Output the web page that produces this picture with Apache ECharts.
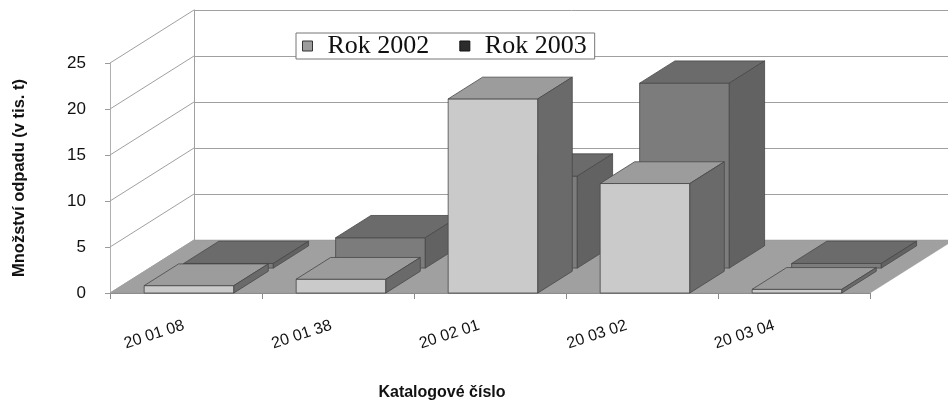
<!DOCTYPE html>
<html>
<head>
<meta charset="utf-8">
<title>Množství odpadu</title>
<script src="https://cdn.jsdelivr.net/npm/echarts@6/dist/echarts.min.js"></script>
<style>
  html, body { margin: 0; padding: 0; background: #fff; }
  #chart { width: 948px; height: 403px; }
</style>
</head>
<body>
<div id="chart"></div>
<script>
// Waste amounts (thousand tonnes) by catalogue number
const categories = ['20 01 08', '20 01 38', '20 02 01', '20 03 02', '20 03 04'];
const rok2002 = [0.8, 1.5, 21.1, 11.9, 0.4];
const rok2003 = [0.5, 3.3, 10.0, 20.1, 0.5];
const yTicks = [0, 5, 10, 15, 20, 25];

// Oblique projection of the floor depth (pixels for the full depth)
const DEPTH_DX = 84;
const DEPTH_DY = -53;
// Depth band occupied by each row of boxes (0 = front edge, 1 = back wall)
const ROW_2002 = [0.0, 0.41];
const ROW_2003 = [0.47, 0.89];
const BAR_FRAC = 0.59;
const BAR_SHIFT = 3;

const SANS = "'Liberation Sans', Arial, sans-serif";
const EDGE = '#474747';

function boxRenderer(row, colors) {
  return function (params, api) {
    const cat = api.value(0);
    const base = api.coord([cat, 0]);
    const top = api.coord([cat, api.value(1)]);
    const w = api.size([1, 0])[0] * BAR_FRAC;
    const xl = base[0] - w / 2 + BAR_SHIFT;
    const xr = xl + w;
    const ox0 = DEPTH_DX * row[0], oy0 = DEPTH_DY * row[0];
    const ox1 = DEPTH_DX * row[1], oy1 = DEPTH_DY * row[1];
    const yb = base[1], yt = top[1];
    const st = { stroke: EDGE, lineWidth: 0.8, lineJoin: 'round' };
    return {
      type: 'group',
      children: [
        {
          type: 'polygon',
          shape: { points: [[xl + ox0, yt + oy0], [xr + ox0, yt + oy0], [xr + ox0, yb + oy0], [xl + ox0, yb + oy0]] },
          style: Object.assign({ fill: colors.front }, st)
        },
        {
          type: 'polygon',
          shape: { points: [[xl + ox0, yt + oy0], [xr + ox0, yt + oy0], [xr + ox1, yt + oy1], [xl + ox1, yt + oy1]] },
          style: Object.assign({ fill: colors.top }, st)
        },
        {
          type: 'polygon',
          shape: { points: [[xr + ox0, yt + oy0], [xr + ox1, yt + oy1], [xr + ox1, yb + oy1], [xr + ox0, yb + oy0]] },
          style: Object.assign({ fill: colors.side }, st)
        }
      ]
    };
  };
}

const chart = echarts.init(document.getElementById('chart'), null, { renderer: 'canvas' });

const option = {
  animation: false,
  backgroundColor: '#ffffff',
  legend: {
    left: 296,
    top: 33,
    padding: [0, 8, 0, 6],
    itemWidth: 10,
    itemHeight: 10,
    itemGap: 30,
    icon: 'rect',
    borderColor: '#777',
    borderWidth: 1,
    backgroundColor: '#ffffff',
    z: 10,
    textStyle: {
      fontFamily: "'Liberation Serif', 'Times New Roman', serif",
      fontSize: 26,
      color: '#111',
      padding: [2, 0, 0, 10]
    },
    data: [
      { name: 'Rok 2002', itemStyle: { color: '#9c9c9c', borderColor: '#333', borderWidth: 1 } },
      { name: 'Rok 2003', itemStyle: { color: '#2c2c2c', borderColor: '#111', borderWidth: 1 } }
    ]
  },
  grid: [
    // front plane: boxes and the labelled axes
    { left: 110, right: 78, top: 63, bottom: 110, outerBoundsMode: 'none', containLabel: false },
    // back wall, pushed back by the full depth
    { left: 110 + DEPTH_DX, right: 78 - DEPTH_DX - 20, top: 63 + DEPTH_DY, bottom: 110 - DEPTH_DY, outerBoundsMode: 'none', containLabel: false },
    // band used only for the slanted category labels (foreshortened spacing)
    { left: 110, right: 100, top: 63, bottom: 110, outerBoundsMode: 'none', containLabel: false }
  ],
  xAxis: [
    {
      gridIndex: 0,
      type: 'category',
      data: categories,
      boundaryGap: true,
      axisLine: { show: true, lineStyle: { color: '#8a8a8a', width: 1 } },
      axisTick: { show: true, length: 6, lineStyle: { color: '#8a8a8a' } },
      axisLabel: { show: false },
      name: 'Katalogové číslo',
      nameLocation: 'middle',
      nameGap: 92,
      nameTextStyle: {
        fontFamily: SANS,
        fontWeight: 'bold',
        fontSize: 16,
        color: '#111',
        padding: [0, 96, 0, 0]
      },
      splitLine: { show: false }
    },
    {
      gridIndex: 1,
      type: 'value',
      show: false,
      min: 0,
      max: 1
    },
    {
      gridIndex: 2,
      type: 'category',
      data: categories,
      boundaryGap: true,
      axisLine: { show: false },
      axisTick: { show: false },
      splitLine: { show: false },
      axisLabel: {
        rotate: 18,
        margin: 32,
        interval: 0,
        color: '#111',
        fontFamily: SANS,
        fontSize: 16
      }
    }
  ],
  yAxis: [
    {
      gridIndex: 0,
      type: 'value',
      min: 0,
      max: 25,
      interval: 5,
      axisLine: { show: true, lineStyle: { color: '#b0b0b0', width: 1 } },
      axisTick: { show: true, length: 5, lineStyle: { color: '#9a9a9a' } },
      axisLabel: {
        margin: 24,
        color: '#111',
        fontFamily: SANS,
        fontSize: 17
      },
      splitLine: { show: false },
      name: 'Množství odpadu (v tis. t)',
      nameLocation: 'middle',
      nameGap: 82,
      nameTextStyle: {
        fontFamily: SANS,
        fontWeight: 'bold',
        fontSize: 16.5,
        color: '#111'
      }
    },
    {
      gridIndex: 1,
      type: 'value',
      min: 0,
      max: 25,
      interval: 5,
      axisLine: { show: true, lineStyle: { color: '#a0a0a0', width: 1 } },
      axisTick: { show: false },
      axisLabel: { show: false },
      splitLine: { show: true, lineStyle: { color: '#a0a0a0', width: 1 } }
    },
    {
      gridIndex: 2,
      type: 'value',
      show: false,
      min: 0,
      max: 25
    }
  ],
  series: [
    {
      // floor of the plot
      type: 'custom',
      xAxisIndex: 0,
      yAxisIndex: 0,
      silent: true,
      z: 1,
      data: [[0]],
      renderItem: function (params, api) {
        const cs = params.coordSys;
        const x0 = cs.x, x1 = cs.x + cs.width, yb = cs.y + cs.height;
        return {
          type: 'polygon',
          shape: { points: [[x0, yb], [x1, yb], [x1 + DEPTH_DX, yb + DEPTH_DY], [x0 + DEPTH_DX, yb + DEPTH_DY]] },
          style: { fill: '#a0a0a0', stroke: '#959595', lineWidth: 0.5 }
        };
      }
    },
    {
      // side wall grid lines running from the value axis to the back wall
      type: 'custom',
      xAxisIndex: 0,
      yAxisIndex: 0,
      silent: true,
      z: 1,
      data: yTicks.map(function (v) { return [0, v]; }),
      renderItem: function (params, api) {
        const cs = params.coordSys;
        const y = api.coord([0, api.value(1)])[1];
        return {
          type: 'line',
          shape: { x1: cs.x, y1: y, x2: cs.x + DEPTH_DX, y2: y + DEPTH_DY },
          style: { stroke: '#a0a0a0', lineWidth: 1 }
        };
      }
    },
    {
      name: 'Rok 2003',
      type: 'custom',
      xAxisIndex: 0,
      yAxisIndex: 0,
      z: 3,
      itemStyle: { color: '#2c2c2c' },
      data: rok2003.map(function (v, i) { return [i, v]; }),
      renderItem: boxRenderer(ROW_2003, { front: '#7c7c7c', top: '#6b6b6b', side: '#626262' })
    },
    {
      name: 'Rok 2002',
      type: 'custom',
      xAxisIndex: 0,
      yAxisIndex: 0,
      z: 4,
      itemStyle: { color: '#9c9c9c' },
      data: rok2002.map(function (v, i) { return [i, v]; }),
      renderItem: boxRenderer(ROW_2002, { front: '#cacaca', top: '#9c9c9c', side: '#6a6a6a' })
    }
  ]
};

chart.setOption(option);
</script>
</body>
</html>
